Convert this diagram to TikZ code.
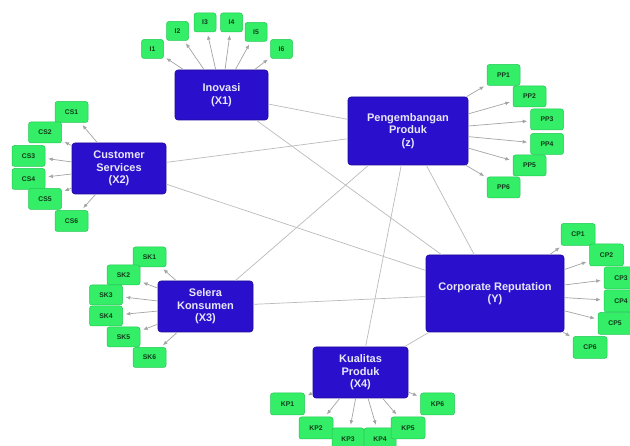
\documentclass[tikz,border=0pt]{standalone}
\usepackage{fontspec}
\setmainfont{Liberation Sans}
\usetikzlibrary{arrows.meta}
\definecolor{mainblue}{HTML}{2A10CC}
\definecolor{mainborder}{HTML}{1C0A9A}
\definecolor{maintext}{HTML}{E8E6F8}
\definecolor{indgreen}{HTML}{33EE66}
\definecolor{indborder}{HTML}{22C855}
\definecolor{indtext}{HTML}{123A1C}
\definecolor{linkgray}{HTML}{BBBBBB}
\definecolor{arrowgray}{HTML}{A4A4A4}
\begin{document}
\begin{tikzpicture}[x=1pt,y=-1pt,
  mainbox/.style={draw=mainborder, fill=mainblue, rounded corners=3pt, text=maintext,
    font=\bfseries\fontsize{11}{12.5}\selectfont, align=center, inner sep=0pt, line width=0.6pt},
  indbox/.style={draw=indborder, fill=indgreen, rounded corners=2.5pt, text=indtext,
    font=\bfseries\fontsize{6.8}{7}\selectfont, inner sep=0pt, minimum width=33pt, minimum height=21pt, line width=0.5pt},
  ismall/.style={indbox, minimum width=22pt, minimum height=19pt},
  link/.style={draw=linkgray, line width=0.7pt},
  ind/.style={draw=arrowgray, line width=0.7pt, -{Latex[length=4.5pt,width=3.8pt]}, shorten >=3pt}]
\useasboundingbox (0,0) rectangle (630,446);
\fill[white] (0,0) rectangle (630,446);

% main constructs
\node[mainbox, minimum width=93pt, minimum height=50pt] (X1) at (221.5,95) {Inovasi\\(X1)};
\node[mainbox, minimum width=94pt, minimum height=51pt] (X2) at (119,168.5) {Customer\\Services\\(X2)};
\node[mainbox, minimum width=120pt, minimum height=68pt] (Z) at (408,131) {Pengembangan\\Produk\\(z)};
\node[mainbox, minimum width=95pt, minimum height=51pt] (X3) at (205.5,306.5) {Selera\\Konsumen\\(X3)};
\node[mainbox, minimum width=138pt, minimum height=77pt] (Y) at (495,293.5) {Corporate Reputation\\(Y)};
\node[mainbox, minimum width=95pt, minimum height=51pt] (X4) at (360.5,372.5) {Kualitas\\Produk\\(X4)};

% indicators X1
\node[ismall] (I1) at (152.5,49) {I1};
\node[ismall] (I2) at (177.5,31) {I2};
\node[ismall] (I3) at (205,22.5) {I3};
\node[ismall] (I4) at (231.5,22.5) {I4};
\node[ismall] (I5) at (256,32) {I5};
\node[ismall] (I6) at (281.5,49) {I6};

% indicators X2
\node[indbox] (CS1) at (71.5,112) {CS1};
\node[indbox] (CS2) at (45,132.5) {CS2};
\node[indbox] (CS3) at (28.5,156) {CS3};
\node[indbox] (CS4) at (28.5,179) {CS4};
\node[indbox] (CS5) at (45,199) {CS5};
\node[indbox] (CS6) at (71.5,221) {CS6};

% indicators Z
\node[indbox] (PP1) at (503.5,75) {PP1};
\node[indbox] (PP2) at (529.5,96.5) {PP2};
\node[indbox] (PP3) at (547,119.5) {PP3};
\node[indbox] (PP4) at (547,144) {PP4};
\node[indbox] (PP5) at (529.5,165.5) {PP5};
\node[indbox] (PP6) at (503.5,187.5) {PP6};

% indicators X3
\node[indbox, minimum height=20pt] (SK1) at (149.5,257) {SK1};
\node[indbox, minimum height=20pt] (SK2) at (123.5,275) {SK2};
\node[indbox, minimum height=20pt] (SK3) at (106,295) {SK3};
\node[indbox, minimum height=20pt] (SK4) at (106,316) {SK4};
\node[indbox, minimum height=20pt] (SK5) at (123.5,337) {SK5};
\node[indbox, minimum height=20pt] (SK6) at (149.5,357.5) {SK6};

% indicators Y
\node[indbox, minimum width=34pt, minimum height=22pt] (CP1) at (578,234.5) {CP1};
\node[indbox, minimum width=34pt, minimum height=22pt] (CP2) at (606.5,255) {CP2};
\node[indbox, minimum width=34pt, minimum height=22pt] (CP3) at (621,278) {CP3};
\node[indbox, minimum width=34pt, minimum height=22pt] (CP4) at (621,301) {CP4};
\node[indbox, minimum width=34pt, minimum height=22pt] (CP5) at (615,323.5) {CP5};
\node[indbox, minimum width=34pt, minimum height=22pt] (CP6) at (590,347.5) {CP6};

% indicators X4
\node[indbox, minimum width=34pt, minimum height=22pt] (KP1) at (287.5,404) {KP1};
\node[indbox, minimum width=34pt, minimum height=22pt] (KP2) at (316,428) {KP2};
\node[indbox, minimum width=32pt, minimum height=22pt] (KP3) at (348,439) {KP3};
\node[indbox, minimum width=32pt, minimum height=22pt] (KP4) at (380,439) {KP4};
\node[indbox, minimum width=34pt, minimum height=22pt] (KP5) at (408,428) {KP5};
\node[indbox, minimum width=34pt, minimum height=22pt] (KP6) at (437.5,404) {KP6};

% structural links
\draw[link] (X1) -- (Z);
\draw[link] (X1) -- (Y);
\draw[link] (X2) -- (Z);
\draw[link] (X2) -- (Y);
\draw[link] (X3) -- (Z);
\draw[link] (X3) -- (Y);
\draw[link] (X4) -- (Z);
\draw[link] (X4) -- (Y);
\draw[link] (Z) -- (Y);

% measurement arrows
\foreach \i in {I1,I2,I3,I4,I5,I6} \draw[ind] (X1) -- (\i);
\foreach \i in {CS1,CS2,CS3,CS4,CS5,CS6} \draw[ind] (X2) -- (\i);
\foreach \i in {PP1,PP2,PP3,PP4,PP5,PP6} \draw[ind] (Z) -- (\i);
\foreach \i in {SK1,SK2,SK3,SK4,SK5,SK6} \draw[ind] (X3) -- (\i);
\foreach \i in {CP1,CP2,CP3,CP4,CP5,CP6} \draw[ind] (Y) -- (\i);
\foreach \i in {KP1,KP2,KP3,KP4,KP5,KP6} \draw[ind] (X4) -- (\i);
\end{tikzpicture}
\end{document}
